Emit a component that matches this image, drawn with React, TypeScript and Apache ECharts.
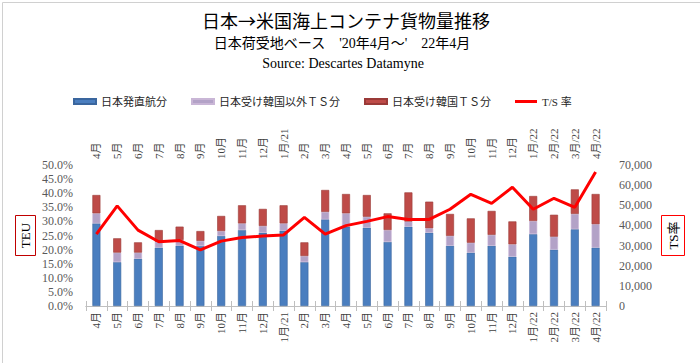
import React, { useEffect, useRef } from "react";
import * as echarts from "echarts";

const categories = [
  "4月", "5月", "6月", "7月", "8月", "9月", "10月", "11月", "12月", "1月/21",
  "2月", "3月", "4月", "5月", "6月", "7月", "8月", "9月", "10月", "11月", "12月",
  "1月/22", "2月/22", "3月/22", "4月/22",
];

// 日本発直航分 (TEU)
const directJapan = [
  41000, 21800, 23500, 29000, 30000, 29800, 34800, 37700, 36400, 37400,
  21800, 43000, 39400, 38900, 31800, 39400, 36400, 29900, 26500, 29900, 24500,
  35700, 28000, 38100, 29000,
];
// 日本受け韓国以外ＴＳ分 (TEU)
const tsOtherThanKorea = [
  5000, 4700, 3000, 2900, 2800, 2500, 2400, 3300, 3300, 3600,
  3000, 3700, 6600, 5400, 5900, 2500, 2200, 4900, 4900, 5400, 6100,
  6500, 6400, 7600, 11600,
];
// 日本受け韓国ＴＳ分 (TEU)
const tsKorea = [
  9100, 7100, 5100, 5800, 6600, 4900, 7500, 9000, 8500, 9000,
  6800, 10900, 9600, 10800, 8300, 14500, 13200, 10900, 12100, 11900, 11400,
  12400, 10900, 12200, 15000,
];
// T/S 率 (%)
const tsRate = [
  25.5, 35.5, 26.9, 22.8, 23.2, 19.9, 23.0, 24.3, 24.8, 25.2,
  31.4, 25.5, 28.5, 30.0, 31.7, 30.7, 30.7, 34.3, 39.6, 36.4, 42.1,
  34.3, 38.2, 35.0, 47.5,
];

const leftTicks = { min: 0, max: 0.5, interval: 0.05 };
const rightTicks = { min: 0, max: 70000, interval: 10000 };

const SERIF = '"Liberation Serif", "DejaVu Serif", "Noto Sans CJK JP", serif';
const CJK = '"Noto Sans CJK JP", "Liberation Serif", serif';
const LABEL_FONT = '"Liberation Serif", "Noto Sans CJK JP", serif';

export default function App() {
  const ref = useRef<HTMLDivElement>(null);

  useEffect(() => {
    if (!ref.current) return;
    const chart = echarts.init(ref.current, undefined, { renderer: "svg" });

    const axisLabelBase = {
      rotate: 90,
      interval: 0,
      fontSize: 11,
      color: "#404040",
      fontFamily: LABEL_FONT,
      margin: 6,
    };

    const option: any = {
      animation: false,
      backgroundColor: "#ffffff",
      grid: { left: 86, right: 94, top: 165, bottom: 57, containLabel: false },
      legend: {
        left: 68,
        top: 91,
        itemGap: 24,
        itemWidth: 22,
        itemHeight: 5,
        textStyle: { fontSize: 11, color: "#262626", fontFamily: LABEL_FONT },
        data: [
          { name: "日本発直航分", icon: "rect" },
          { name: "日本受け韓国以外ＴＳ分", icon: "rect" },
          { name: "日本受け韓国ＴＳ分", icon: "rect" },
          { name: "T/S 率", icon: "path://M0,0 L22,0 L22,3 L0,3 Z" },
        ],
      },
      xAxis: [
        {
          type: "category",
          position: "bottom",
          data: categories,
          boundaryGap: true,
          axisLine: { lineStyle: { color: "#BFBFBF", width: 1 } },
          axisTick: { show: true, length: 5, lineStyle: { color: "#BFBFBF" } },
          axisLabel: axisLabelBase,
          splitLine: { show: false },
        },
        {
          type: "category",
          position: "top",
          data: categories,
          boundaryGap: true,
          axisLine: { lineStyle: { color: "#BFBFBF", width: 1 } },
          axisTick: { show: true, length: 5, lineStyle: { color: "#BFBFBF" } },
          axisLabel: axisLabelBase,
          splitLine: { show: false },
        },
      ],
      yAxis: [
        {
          type: "value",
          position: "left",
          min: leftTicks.min,
          max: leftTicks.max,
          interval: leftTicks.interval,
          axisLine: { show: false },
          axisTick: { show: false },
          splitLine: { show: false },
          axisLabel: {
            margin: 13,
            fontSize: 12,
            color: "#595959",
            fontFamily: SERIF,
            formatter: (v: number) => (v * 100).toFixed(1) + "%",
          },
        },
        {
          type: "value",
          position: "right",
          min: rightTicks.min,
          max: rightTicks.max,
          interval: rightTicks.interval,
          axisLine: { show: false },
          axisTick: { show: false },
          splitLine: { show: false },
          axisLabel: {
            margin: 13,
            fontSize: 12,
            color: "#595959",
            fontFamily: SERIF,
            formatter: (v: number) => v.toLocaleString("en-US"),
          },
        },
      ],
      series: [
        {
          name: "日本発直航分",
          type: "bar",
          stack: "teu",
          xAxisIndex: 0,
          yAxisIndex: 1,
          barWidth: 8,
          data: directJapan,
          itemStyle: { color: "#4A7EBF", borderColor: "#3A669E", borderWidth: 0.6 },
        },
        {
          name: "日本受け韓国以外ＴＳ分",
          type: "bar",
          stack: "teu",
          xAxisIndex: 0,
          yAxisIndex: 1,
          barWidth: 8,
          data: tsOtherThanKorea,
          itemStyle: { color: "#B3A2C7", borderColor: "#C9B6D6", borderWidth: 0.6 },
        },
        {
          name: "日本受け韓国ＴＳ分",
          type: "bar",
          stack: "teu",
          xAxisIndex: 0,
          yAxisIndex: 1,
          barWidth: 8,
          data: tsKorea,
          itemStyle: { color: "#BE4B48", borderColor: "#9A3A38", borderWidth: 0.6 },
        },
        {
          name: "T/S 率",
          type: "line",
          xAxisIndex: 0,
          yAxisIndex: 0,
          data: tsRate.map((v) => v / 100),
          showSymbol: false,
          symbol: "none",
          lineStyle: { color: "#FF0000", width: 3 },
          itemStyle: { color: "#FF0000" },
          z: 5,
        },
      ],
      graphic: [
        {
          type: "rect",
          left: 0,
          top: 0,
          shape: { x: 0.5, y: 0.5, width: 699, height: 362 },
          style: { fill: "none", stroke: "#D0D0D0", lineWidth: 1 },
          silent: true,
        },
        {
          type: "text",
          x: 346,
          y: 20,
          style: {
            text: "日本→米国海上コンテナ貨物量推移",
            fontSize: 18,
            fontFamily: CJK,
            fontWeight: "normal",
            fill: "#000000",
            align: "center",
            verticalAlign: "middle",
          },
        },
        {
          type: "text",
          x: 342,
          y: 43,
          style: {
            text: "日本荷受地ベース　'20年4月～'　22年4月",
            fontSize: 14,
            fontFamily: SERIF,
            fill: "#000000",
            align: "center",
            verticalAlign: "middle",
          },
        },
        {
          type: "text",
          x: 343,
          y: 63,
          style: {
            text: "Source: Descartes Datamyne",
            fontSize: 14,
            fontFamily: SERIF,
            fill: "#000000",
            align: "center",
            verticalAlign: "middle",
          },
        },
        {
          type: "rect",
          shape: { x: 15.5, y: 215.5, width: 20, height: 40 },
          style: { fill: "#ffffff", stroke: "#C00000", lineWidth: 1 },
        },
        {
          type: "text",
          x: 25.5,
          y: 235.5,
          rotation: Math.PI / 2,
          style: {
            text: "TEU",
            fontSize: 13,
            fontFamily: SERIF,
            fill: "#000000",
            align: "center",
            verticalAlign: "middle",
          },
        },
        {
          type: "rect",
          shape: { x: 661.5, y: 215.5, width: 23, height: 40 },
          style: { fill: "#ffffff", stroke: "#FF0000", lineWidth: 1 },
        },
        {
          type: "text",
          x: 673,
          y: 235.5,
          rotation: Math.PI / 2,
          style: {
            text: "TS率",
            fontSize: 13,
            fontFamily: SERIF,
            fill: "#000000",
            align: "center",
            verticalAlign: "middle",
          },
        },
      ],
    };

    chart.setOption(option);
    return () => chart.dispose();
  }, []);

  return (
    <div
      ref={ref}
      style={{ position: "fixed", left: 0, top: 0, width: 700, height: 363, background: "#fff" }}
    />
  );
}
